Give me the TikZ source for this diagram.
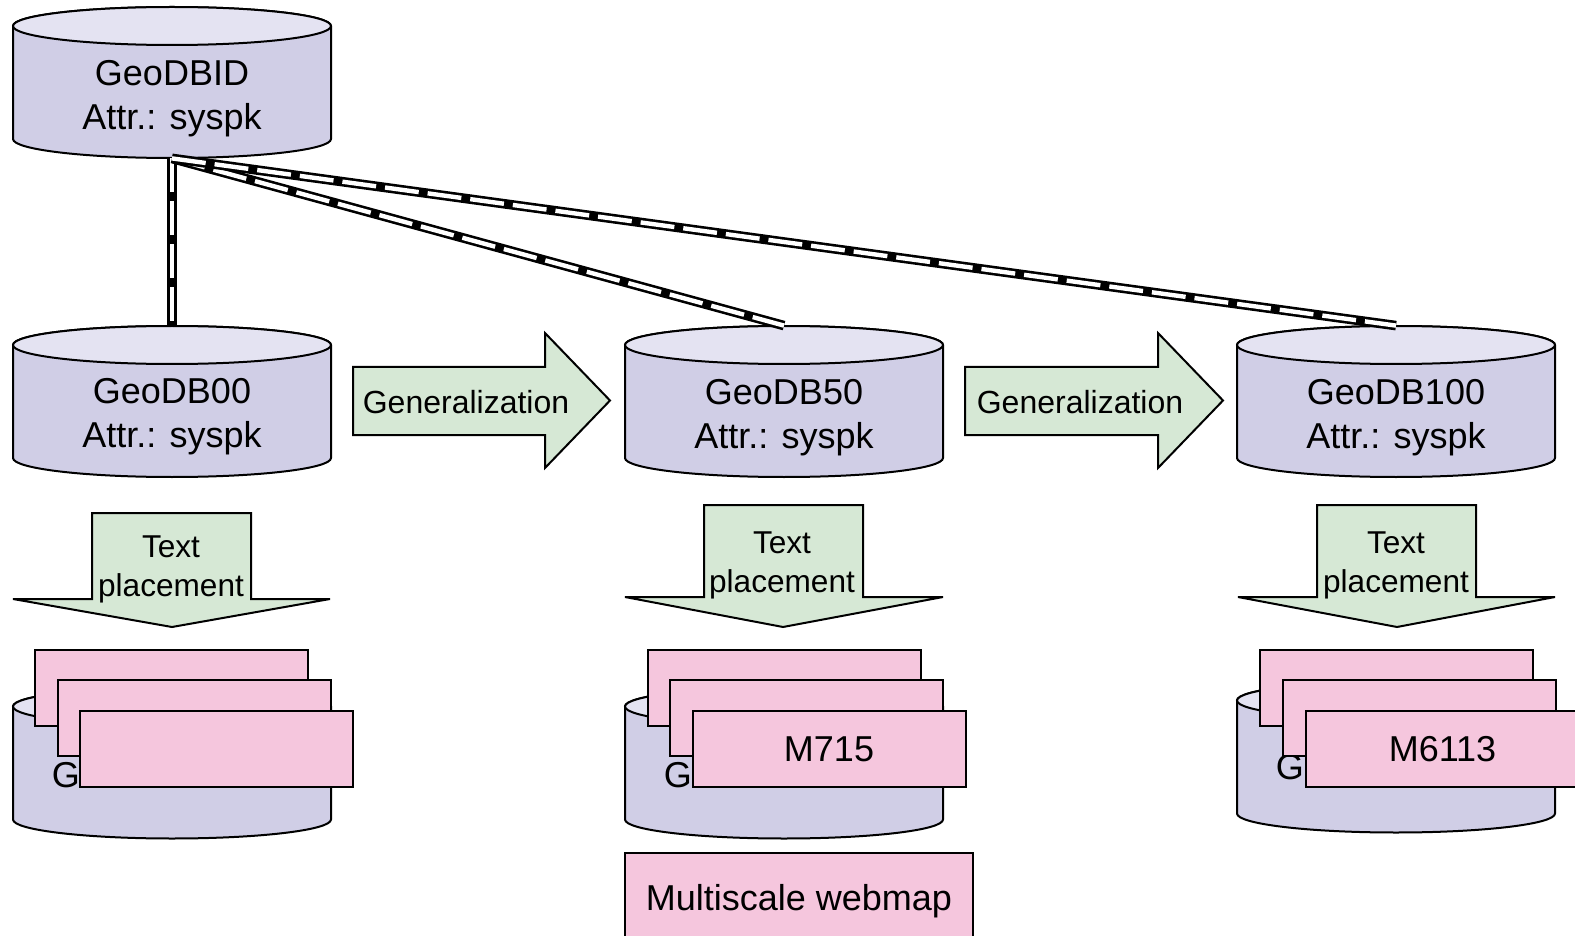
\documentclass[tikz,border=0pt]{standalone}
\usepackage{fontspec}
\setmainfont{Liberation Sans}
\definecolor{dbbodyc}{RGB}{208,206,230}
\definecolor{dbtopc}{RGB}{228,227,242}
\definecolor{greenc}{RGB}{214,232,213}
\definecolor{pinkc}{RGB}{245,198,221}
\newcommand\dbcyl[5]{%
  \filldraw[dbline, fill=dbbodyc] ({#2-159},{#3-56.5}) -- ({#2-159},{#3+56.5})
     arc[start angle=180,end angle=0,x radius=159,y radius=19]
     -- ({#2+159},{#3-56.5})
     arc[start angle=0,end angle=-180,x radius=159,y radius=19] -- cycle;
  \filldraw[dbline, fill=dbtopc] (#2,{#3-56.5}) ellipse[x radius=159,y radius=19];
  \node[dbnode, label={[dblab,#5]center:{#4}}] (#1) at (#2,#3) {};
}
\begin{document}
\begin{tikzpicture}[x=0.5pt,y=-0.5pt, line join=miter,
  dbline/.style={draw=black, line width=1pt},
  dbnode/.style={rectangle, minimum width=159pt, minimum height=75.5pt, inner sep=0pt},
  dblab/.style={align=center, font=\fontsize{18pt}{22pt}\selectfont, inner sep=0pt},
  blockarrow/.style={draw=black, line width=1pt, fill=greenc},
  gentext/.style={font=\fontsize{16pt}{19pt}\selectfont, inner sep=0pt},
  tptext/.style={align=center, font=\fontsize{15.8pt}{19.5pt}\selectfont, inner sep=0pt},
  pinkbox/.style={draw=black, line width=1pt, fill=pinkc, minimum width=136.5pt, minimum height=38pt, inner sep=0pt, font=\fontsize{18pt}{22pt}\selectfont},
  webbox/.style={draw=black, line width=1pt, fill=pinkc, minimum width=174pt, text height=28.5pt, text depth=17.5pt, inner sep=0pt, font=\fontsize{18pt}{22pt}\selectfont},
  link/.style={line width=4.8pt, draw=black, postaction={draw=white, line width=2.2pt, dash pattern=on 17pt off 4.5pt}}
]
\useasboundingbox (0,0) rectangle (1575,936);

% databases
\dbcyl{id}{172}{82.5}{GeoDBID\\Attr.: syspk}{yshift=-8pt}
\dbcyl{g00}{172}{401.5}{GeoDB00\\Attr.: syspk}{yshift=-7.5pt}
\dbcyl{g50}{784}{401.5}{GeoDB50\\Attr.: syspk}{yshift=-8pt}
\dbcyl{g100}{1396}{401.5}{GeoDB100\\Attr.: syspk}{yshift=-8pt}
\dbcyl{n00}{172}{763}{GeoDB names}{yshift=-6pt, xshift=-1pt}
\dbcyl{n50}{784}{763}{GeoDB names}{yshift=-6pt, xshift=-1pt}
\dbcyl{n100}{1396}{757}{GeoDB names}{yshift=-5pt, xshift=-1pt}

% connectors
\draw[link] (id.south) -- (g00.north);
\draw[link] (id.south) -- (g50.north);
\draw[link] (id.south) -- (g100.north);

% generalization arrows
\draw[blockarrow] (353,367) -- (545,367) -- (545,333) -- (610,400.5) -- (545,468) -- (545,435) -- (353,435) -- cycle;
\node[gentext] (gen1) at (466,402) {Generalization};
\draw[blockarrow] (965,367) -- (1158,367) -- (1158,333) -- (1223,400.5) -- (1158,468) -- (1158,435) -- (965,435) -- cycle;
\node[gentext] (gen2) at (1080,402) {Generalization};

% text placement arrows
\draw[blockarrow] (92,513) -- (251,513) -- (251,599) -- (330,599) -- (172,627) -- (13,599) -- (92,599) -- cycle;
\node[tptext] (tp1) at (171,569) {Text\\placement};
\draw[blockarrow] (704,505) -- (863,505) -- (863,597) -- (943,597) -- (783,627) -- (625,597) -- (704,597) -- cycle;
\node[tptext] (tp2) at (782,565) {Text\\placement};
\draw[blockarrow] (1317,505) -- (1476,505) -- (1476,597) -- (1555,597) -- (1397,627) -- (1238,597) -- (1317,597) -- cycle;
\node[tptext] (tp3) at (1396,565) {Text\\placement};

% map sheets
\node[pinkbox] (n00a) at (171.5,688) {};
\node[pinkbox] (n00b) at (194.5,718) {};
\node[pinkbox] (n00c) at (216.5,749) {};
\node[pinkbox] (n50a) at (784.5,688) {};
\node[pinkbox] (n50b) at (806.5,718) {};
\node[pinkbox] (n50c) at (829,749) {M715};
\node[pinkbox] (n100a) at (1396.5,688) {};
\node[pinkbox] (n100b) at (1419,718) {};
\node[pinkbox] (n100c) at (1442.5,749) {M6113};

\node[webbox] (web) at (799,899) {Multiscale webmap};
\end{tikzpicture}
\end{document}
